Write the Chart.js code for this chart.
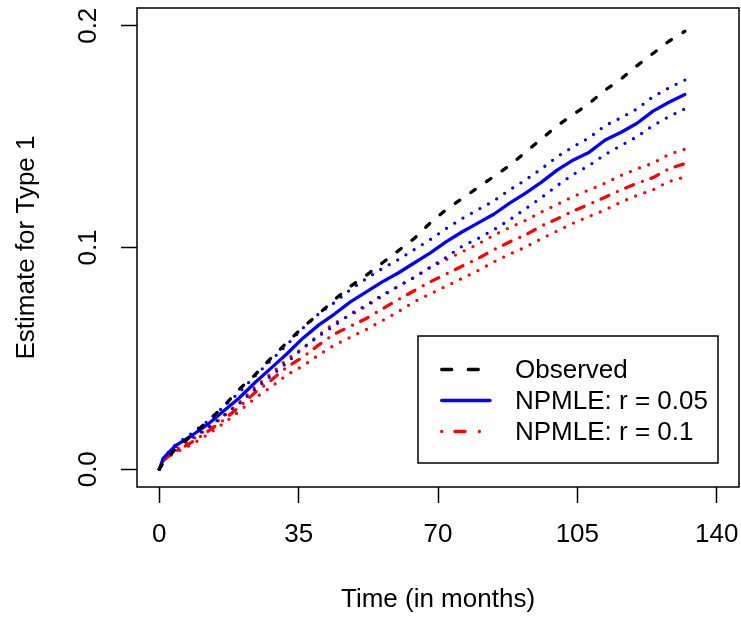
<!DOCTYPE html>
<html>
<head>
<meta charset="utf-8">
<script src="https://cdn.jsdelivr.net/npm/chart.js@4.4.1/dist/chart.umd.min.js"></script>
<style>
  html, body { margin: 0; padding: 0; background: #fff; }
  #wrap { width: 741px; height: 618px; }
</style>
</head>
<body>
<div id="wrap"><canvas id="cifChart"></canvas></div>
<script>
// follow-up time in months (shared grid for every curve)
const months = [0, 1, 4, 8, 12, 16, 20, 24, 28, 32, 36, 40, 44, 48, 52, 56, 60, 64, 68,
  72, 76, 80, 84, 88, 92, 96, 100, 104, 108, 112, 116, 120, 124, 128, 132];

const observed = [0, 0.003, 0.009, 0.015, 0.0215, 0.028, 0.036, 0.0425, 0.050, 0.057, 0.064,
  0.070, 0.0765, 0.0825, 0.0875, 0.093, 0.0985, 0.104, 0.111, 0.117, 0.122, 0.127, 0.132,
  0.137, 0.143, 0.149, 0.155, 0.160, 0.165, 0.171, 0.176, 0.182, 0.1875, 0.193, 0.1975];

// NPMLE, r = 0.05 with pointwise band
const npmle05 = [0, 0.005, 0.0105, 0.015, 0.020, 0.026, 0.032, 0.039, 0.0455, 0.052, 0.059,
  0.065, 0.070, 0.0755, 0.080, 0.0845, 0.0885, 0.093, 0.0975, 0.1025, 0.107, 0.111, 0.115,
  0.120, 0.1245, 0.1295, 0.135, 0.1395, 0.143, 0.1485, 0.152, 0.156, 0.1615, 0.1655, 0.169];
const npmle05Upper = [0, 0.005, 0.011, 0.016, 0.0215, 0.028, 0.0345, 0.042, 0.049, 0.056, 0.0635,
  0.070, 0.0752, 0.081, 0.086, 0.0905, 0.0945, 0.099, 0.1035, 0.1085, 0.113, 0.117, 0.121,
  0.126, 0.1305, 0.1355, 0.141, 0.1455, 0.1495, 0.155, 0.1585, 0.1625, 0.168, 0.172, 0.1755];
const npmle05Lower = [0, 0.005, 0.010, 0.014, 0.0185, 0.024, 0.0295, 0.036, 0.042, 0.048, 0.0545,
  0.060, 0.0648, 0.070, 0.074, 0.0785, 0.0825, 0.0865, 0.091, 0.0955, 0.1005, 0.104, 0.108,
  0.1125, 0.1175, 0.1225, 0.128, 0.133, 0.137, 0.142, 0.146, 0.150, 0.155, 0.159, 0.1625];

// NPMLE, r = 0.1 with pointwise band
const npmle10 = [0, 0.004, 0.008, 0.012, 0.0168, 0.022, 0.028, 0.0345, 0.040, 0.046, 0.0505,
  0.056, 0.061, 0.0645, 0.068, 0.0723, 0.0765, 0.0805, 0.0845, 0.088, 0.0915, 0.095, 0.099,
  0.1025, 0.1057, 0.1097, 0.113, 0.1165, 0.1195, 0.1227, 0.126, 0.129, 0.1315, 0.1355, 0.1378];
const npmle10Upper = [0, 0.004, 0.0085, 0.013, 0.018, 0.0235, 0.030, 0.037, 0.043, 0.0495, 0.0545,
  0.0605, 0.066, 0.0695, 0.0735, 0.078, 0.0825, 0.0865, 0.091, 0.0945, 0.098, 0.1015, 0.1055,
  0.109, 0.1122, 0.116, 0.1195, 0.123, 0.126, 0.129, 0.1325, 0.1355, 0.138, 0.142, 0.1443];
const npmle10Lower = [0, 0.004, 0.0075, 0.011, 0.0155, 0.0205, 0.026, 0.032, 0.037, 0.0425, 0.0465,
  0.0515, 0.056, 0.0595, 0.063, 0.067, 0.071, 0.0755, 0.079, 0.0825, 0.086, 0.0895, 0.0935,
  0.097, 0.1002, 0.104, 0.1075, 0.111, 0.114, 0.117, 0.1205, 0.1235, 0.126, 0.1298, 0.1318];

const xTicks = [0, 35, 70, 105, 140];
const yTicks = [0, 0.1, 0.2];
const legendLabels = ['Observed', 'NPMLE: r = 0.05', 'NPMLE: r = 0.1'];

const FONT = "'Liberation Sans', Arial, Helvetica, sans-serif";
Chart.defaults.font.family = FONT;
Chart.defaults.color = '#000';

function pts(arr) {
  return months.map((t, i) => ({ x: t, y: arr[i] }));
}

const LW = 3.3;
const dashObs = [5.5, 13.5];
const dotted = [0, 9.7];
const dotDash = [0, 9, 8.5, 9.5];

function series(label, arr, color, dash) {
  return {
    label: label,
    data: pts(arr),
    borderColor: color,
    backgroundColor: color,
    borderWidth: LW,
    borderDash: dash,
    borderCapStyle: 'round',
    borderJoinStyle: 'round',
    pointRadius: 0,
    tension: 0,
    fill: false
  };
}

// box around the plot region
const boxPlugin = {
  id: 'plotBox',
  afterDatasetsDraw(chart) {
    const a = chart.chartArea;
    const ctx = chart.ctx;
    ctx.save();
    ctx.strokeStyle = '#000';
    ctx.lineWidth = 1.5;
    ctx.strokeRect(a.left, a.top, a.right - a.left, a.bottom - a.top);
    ctx.restore();
  }
};

// legend box in the lower right of the plot
const legendPlugin = {
  id: 'rLegend',
  afterDraw(chart) {
    const ctx = chart.ctx;
    const bx = 418, by = 336, bw = 300, bh = 127;
    ctx.save();
    ctx.fillStyle = '#fff';
    ctx.fillRect(bx, by, bw, bh);
    ctx.strokeStyle = '#000';
    ctx.lineWidth = 1.5;
    ctx.strokeRect(bx, by, bw, bh);

    const styles = [
      { color: '#000', dash: [10, 16.6] },
      { color: '#0000ff', dash: [] },
      { color: '#ff0000', dash: [0, 13.3, 10, 14.4] }
    ];
    const rowY = [369.5, 400.5, 431.5];
    ctx.font = '26px ' + FONT;
    ctx.textBaseline = 'middle';
    ctx.textAlign = 'left';
    legendLabels.forEach((txt, i) => {
      const s = styles[i];
      ctx.beginPath();
      ctx.setLineDash(s.dash);
      ctx.lineCap = 'round';
      ctx.strokeStyle = s.color;
      ctx.lineWidth = LW;
      ctx.moveTo(441.7, rowY[i]);
      ctx.lineTo(490, rowY[i]);
      ctx.stroke();
      ctx.setLineDash([]);
      ctx.fillStyle = '#000';
      ctx.fillText(txt, 515, rowY[i] + 1);
    });
    ctx.restore();
  }
};

const ctx = document.getElementById('cifChart').getContext('2d');
const cifChart = new Chart(ctx, {
  type: 'line',
  data: {
    datasets: [
      series('Observed', observed, '#000000', dashObs),
      series('NPMLE: r = 0.05', npmle05, '#0000ff', []),
      series('NPMLE: r = 0.05 upper', npmle05Upper, '#0000ff', dotted),
      series('NPMLE: r = 0.05 lower', npmle05Lower, '#0000ff', dotted),
      series('NPMLE: r = 0.1', npmle10, '#ff0000', dotDash),
      series('NPMLE: r = 0.1 upper', npmle10Upper, '#ff0000', dotted),
      series('NPMLE: r = 0.1 lower', npmle10Lower, '#ff0000', dotted)
    ]
  },
  options: {
    responsive: true,
    maintainAspectRatio: false,
    animation: false,
    devicePixelRatio: 1,
    layout: { padding: { left: 0, top: 8, right: 2, bottom: 0 } },
    plugins: {
      legend: { display: false },
      tooltip: { enabled: false }
    },
    scales: {
      x: {
        type: 'linear',
        min: -5.6,
        max: 145.6,
        afterBuildTicks: (scale) => { scale.ticks = xTicks.map(v => ({ value: v })); },
        afterFit: (scale) => {
          scale.height = 131;
          scale.paddingLeft = 0;
          scale.paddingRight = 0;
        },
        grid: {
          drawOnChartArea: false,
          drawTicks: true,
          tickLength: 16,
          tickWidth: 1.5,
          tickColor: '#000'
        },
        border: { display: false },
        ticks: {
          autoSkip: false,
          maxRotation: 0,
          padding: 16,
          color: '#000',
          font: { size: 26 },
          callback: (v) => String(v)
        },
        title: {
          display: true,
          text: 'Time (in months)',
          color: '#000',
          font: { size: 26 },
          padding: { top: 0, bottom: 2.5 }
        }
      },
      y: {
        type: 'linear',
        min: -0.008,
        max: 0.208,
        afterBuildTicks: (scale) => { scale.ticks = yTicks.map(v => ({ value: v })); },
        afterFit: (scale) => {
          scale.width = 137;
          scale.paddingTop = 0;
          scale.paddingBottom = 0;
        },
        grid: {
          drawOnChartArea: false,
          drawTicks: true,
          tickLength: 16,
          tickWidth: 1.5,
          tickColor: '#000'
        },
        border: { display: false },
        ticks: {
          autoSkip: false,
          minRotation: 90,
          maxRotation: 90,
          crossAlign: 'center',
          padding: 14,
          color: '#000',
          font: { size: 26 },
          callback: (v) => Number(v).toFixed(1)
        },
        title: {
          display: true,
          text: 'Estimate for Type 1',
          color: '#000',
          font: { size: 26 },
          padding: { top: 11, bottom: 0 }
        }
      }
    }
  },
  plugins: [boxPlugin, legendPlugin]
});
</script>
</body>
</html>
